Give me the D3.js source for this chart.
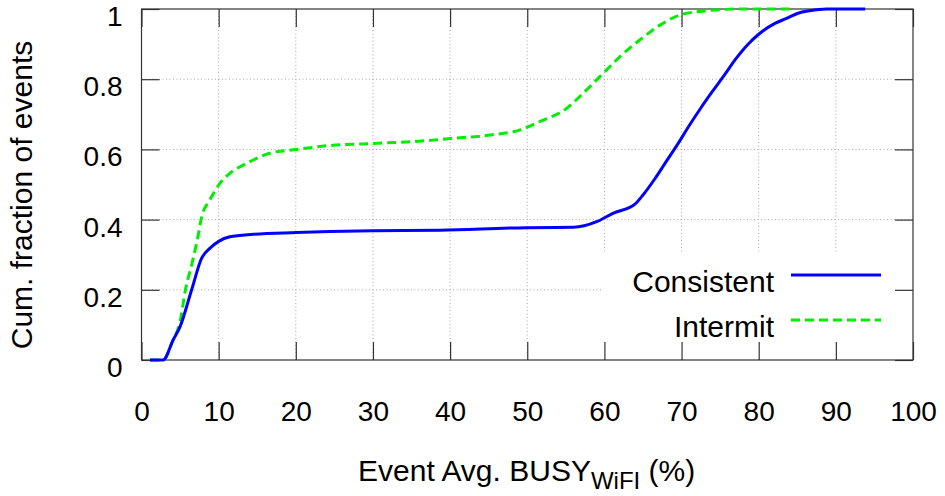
<!DOCTYPE html>
<html>
<head>
<meta charset="utf-8">
<script src="https://cdn.jsdelivr.net/npm/d3@7"></script>
<style>
  html, body { margin: 0; padding: 0; background: #fff; }
  svg { display: block; }
  text { font-family: "Liberation Sans", Arial, Helvetica, sans-serif; fill: #000; }
</style>
</head>
<body>
<svg id="chart" width="945" height="496"></svg>
<script>
// ---- data ----
const xTicks = [0, 10, 20, 30, 40, 50, 60, 70, 80, 90, 100];
const yTicks = [0, 0.2, 0.4, 0.6, 0.8, 1];
const yTickLabels = ["0", "0.2", "0.4", "0.6", "0.8", "1"];
const seriesNames = ["Consistent", "Intermit"];

const consistentX = [1.1, 2.8, 4.1, 5.0, 6.5, 7.8, 8.85, 10, 11.45, 14.5, 20.1, 24.4, 30, 38.7, 49.9, 56.0, 59.0, 61.1, 63.96, 65, 66.5, 68, 69.5, 71, 72.5, 74, 75.5, 77, 78.5, 80, 82.1, 83.6, 85.1, 86.6, 88.8, 93.8];
const consistentY = [0, 0, 0.057, 0.095, 0.2, 0.29, 0.318, 0.338, 0.351, 0.358, 0.363, 0.366, 0.368, 0.370, 0.377, 0.378, 0.394, 0.418, 0.444, 0.47, 0.515, 0.565, 0.615, 0.668, 0.718, 0.765, 0.81, 0.857, 0.897, 0.928, 0.959, 0.973, 0.988, 0.995, 1, 1];

const intermitX = [1.1, 2.8, 4.1, 5.0, 5.7, 6.6, 7.3, 7.8, 8.85, 10.15, 11.45, 13.6, 16.6, 20.1, 24.4, 30, 35.2, 40, 45.2, 49, 51.6, 55.1, 57.25, 59.85, 62, 64.6, 67.2, 69.8, 73.25, 77.6, 84];
const intermitY = [0, 0, 0.057, 0.11, 0.2, 0.28, 0.35, 0.408, 0.456, 0.503, 0.532, 0.560, 0.589, 0.600, 0.611, 0.617, 0.622, 0.631, 0.641, 0.655, 0.679, 0.717, 0.760, 0.817, 0.864, 0.912, 0.954, 0.983, 0.995, 1, 1];

// ---- layout ----
const L = 141.5, R = 913, T = 9, B = 360;
const svg = d3.select("#chart");
const x = d3.scaleLinear().domain([0, 100]).range([L, R]);
const y = d3.scaleLinear().domain([0, 1]).range([B, T]);
const TICK = 18;
const borderColor = "#333";

// grid
const grid = svg.append("g");
grid.selectAll("line.gx").data(xTicks.slice(1, -1)).join("line")
  .attr("x1", d => x(d)).attr("x2", d => x(d)).attr("y1", T).attr("y2", B)
  .attr("stroke", "#a8a8a8").attr("stroke-width", 1).attr("stroke-dasharray", "1,2.5");
grid.selectAll("line.gy").data(yTicks.slice(1, -1)).join("line")
  .attr("y1", d => y(d)).attr("y2", d => y(d)).attr("x1", L).attr("x2", R)
  .attr("stroke", "#a8a8a8").attr("stroke-width", 1).attr("stroke-dasharray", "1,2.5");

// legend background (opaque key)
svg.append("rect").attr("x", 602).attr("y", 253).attr("width", R - 602 - 1).attr("height", B - 253 - 1).attr("fill", "#fff");

// ticks via d3 axes (inward)
const axB = d3.axisBottom(x).tickValues(xTicks).tickSize(-TICK).tickFormat(d => d).tickPadding(0);
const gB = svg.append("g").attr("transform", `translate(0,${B})`).call(axB);
const axT = d3.axisTop(x).tickValues(xTicks).tickSize(-TICK).tickFormat("");
const gT = svg.append("g").attr("transform", `translate(0,${T})`).call(axT);
const axL = d3.axisLeft(y).tickValues(yTicks).tickSize(-TICK).tickFormat((d, i) => yTickLabels[i]);
const gL = svg.append("g").attr("transform", `translate(${L},0)`).call(axL);
const axR = d3.axisRight(y).tickValues(yTicks).tickSize(-TICK).tickFormat("");
const gR = svg.append("g").attr("transform", `translate(${R},0)`).call(axR);
[gB, gT, gL, gR].forEach(g => {
  g.select(".domain").remove();
  g.selectAll(".tick line").attr("stroke", borderColor).attr("stroke-width", 1.2);
});
gB.selectAll(".tick text").attr("font-size", 28).attr("font-family", null)
  .attr("dy", null).attr("y", 61).attr("fill", "#000");
gL.selectAll(".tick text").attr("font-size", 28).attr("font-family", null)
  .attr("dy", null).attr("x", -19).attr("y", 16.5).attr("fill", "#000");

// border
svg.append("rect").attr("x", L).attr("y", T).attr("width", R - L).attr("height", B - T)
  .attr("fill", "none").attr("stroke", borderColor).attr("stroke-width", 1.2);

// lines
const line = d3.line().x(d => x(d[0])).y(d => y(d[1])).curve(d3.curveMonotoneX);
const consistent = consistentX.map((v, i) => [v, consistentY[i]]);
const intermit = intermitX.map((v, i) => [v, intermitY[i]]);
svg.append("path").attr("d", line(intermit)).attr("fill", "none")
  .attr("stroke", "#00ee00").attr("stroke-width", 3).attr("stroke-dasharray", "9,5");
svg.append("path").attr("d", line(consistent)).attr("fill", "none")
  .attr("stroke", "#0000ff").attr("stroke-width", 3);

// legend
const legY = [275, 320];
const legStyles = [{ c: "#0000ff", d: null }, { c: "#00ee00", d: "9,5" }];
seriesNames.forEach((name, i) => {
  svg.append("text").attr("x", 774).attr("y", legY[i] + 17).attr("text-anchor", "end")
    .attr("font-size", 30).text(name);
  svg.append("line").attr("x1", 791).attr("x2", 881).attr("y1", legY[i]).attr("y2", legY[i])
    .attr("stroke", legStyles[i].c).attr("stroke-width", 3).attr("stroke-dasharray", legStyles[i].d);
});

// axis titles
const xt = svg.append("text").attr("x", 358).attr("y", 481).attr("font-size", 30);
xt.append("tspan").text("Event Avg. BUSY");
xt.append("tspan").attr("font-size", 24).attr("dy", 8).text("WiFI");
xt.append("tspan").attr("dy", -8).text(" (%)");

svg.append("text").attr("transform", "translate(32,195) rotate(-90)").attr("text-anchor", "middle")
  .attr("font-size", 30).text("Cum. fraction of events");
</script>
</body>
</html>
